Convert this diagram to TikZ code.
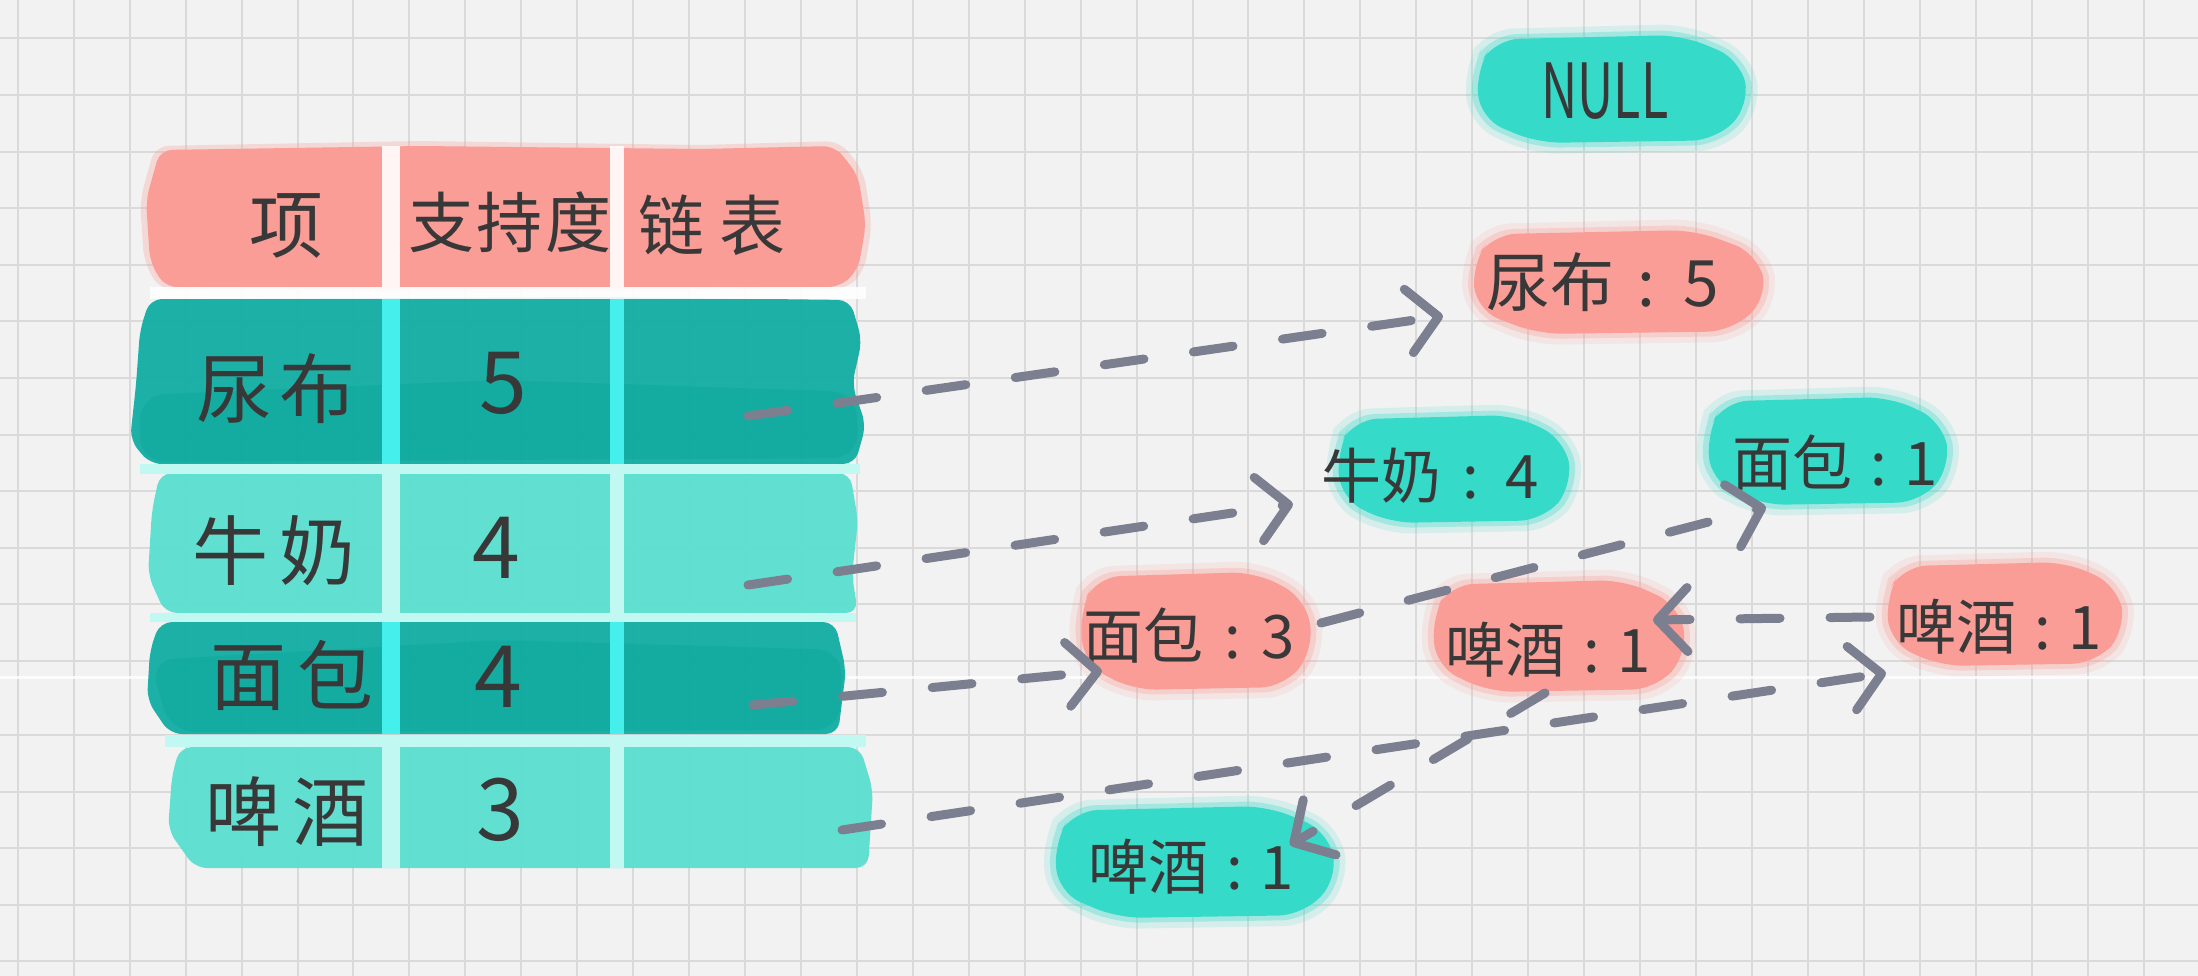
\documentclass[tikz,border=0pt]{standalone}
\usepackage{fontspec}
\setmainfont{Noto Sans CJK SC}
\usepackage{graphicx}
\usetikzlibrary{arrows.meta}
\definecolor{bg}{HTML}{F2F2F2}
\definecolor{gridc}{HTML}{DADADA}
\definecolor{salmon}{HTML}{F99D96}
\definecolor{tealdk}{HTML}{12ADA2}
\definecolor{tealdkk}{HTML}{00A296}
\definecolor{teallt}{HTML}{5ADFCF}
\definecolor{tealnode}{HTML}{36DAC8}
\definecolor{sepcyan}{HTML}{45F0EC}
\definecolor{seplt}{HTML}{C2F8F2}
\definecolor{ink}{HTML}{383838}
\definecolor{linkgray}{HTML}{7C7F8F}
\newcommand\blobpath[4]{%
    ({#1-0.86*#3},{#2-0.92*#4}) -- ({#1+0.5*#3},{#2-1.0*#4}) --
    ({#1+0.93*#3},{#2-0.55*#4}) -- ({#1+1.0*#3},{#2+0.3*#4}) --
    ({#1+0.75*#3},{#2+0.95*#4}) -- ({#1-0.55*#3},{#2+1.0*#4}) --
    ({#1-0.97*#3},{#2+0.55*#4}) -- ({#1-1.0*#3},{#2-0.35*#4}) -- cycle}
\newcommand\myblob[5]{%
  \fill[#5, opacity=.15, rounded corners=28pt] \blobpath{#1}{#2}{(#3+12)}{(#4+11)};
  \fill[#5, opacity=.3, rounded corners=26pt] \blobpath{#1}{#2}{(#3+6)}{(#4+5)};
  \fill[#5, rounded corners=24pt] \blobpath{#1}{#2}{#3}{#4};
}
\tikzset{
  gridline/.style={draw=gridc, line width=2pt},
  cell/.style={text=ink, font=\fontsize{76}{84}\selectfont, inner sep=0pt},
  digit/.style={text=ink, font=\fontsize{86}{90}\selectfont, inner sep=0pt},
  headtxt/.style={text=ink, font=\fontsize{66}{72}\selectfont, inner sep=0pt},
  lab/.style={text=ink, font=\fontsize{60}{68}\selectfont, inner sep=0pt},
  link/.style={draw=linkgray, line width=9pt, line cap=round, dash pattern=on 40pt off 50pt,
    -{Straight Barb[length=30pt,width=64pt,line width=9pt,round]}},
}
\begin{document}
\begin{tikzpicture}[x=1pt,y=-1pt]
\useasboundingbox (0,0) rectangle (2198,976);
\fill[bg] (0,0) rectangle (2198,976);
% grid
\foreach \k in {0,...,39} \draw[gridline] ({17.8+55.94*\k},0) -- ({17.8+55.94*\k},976);
\foreach \k in {0,...,11} \draw[gridline] (0,{661-56.6*\k}) -- (2198,{661-56.6*\k});
\foreach \k in {0,...,4} \draw[gridline] (0,{735+56.6*\k}) -- (2198,{735+56.6*\k});
\draw[white, line width=3pt, opacity=.8] (0,677) -- (2198,677);
% table rows
\fill[salmon, opacity=.3, rounded corners=14pt] (155,146) -- (420,141) -- (700,145) -- (840,141) -- (864,172) -- (872,225) -- (864,272) -- (845,290) -- (500,292) -- (160,290) -- (144,262) -- (140,200) -- cycle;
\fill[salmon, rounded corners=12pt] (160,150) -- (420,146) -- (700,149) -- (835,146) -- (858,175) -- (866,225) -- (858,270) -- (840,287) -- (500,289) -- (165,287) -- (150,262) -- (146,200) -- cycle;
\fill[tealdk, opacity=.95, rounded corners=12pt] (150,299) -- (600,297) -- (850,300) -- (862,340) -- (852,385) -- (866,425) -- (855,464) -- (400,466) -- (150,464) -- (130,440) -- (136,385) -- (140,330) -- cycle;
\fill[tealdkk, opacity=.3, rounded corners=25pt] (140,395) -- (500,380) -- (856,392) -- (858,458) -- (140,462) -- cycle;
\fill[teallt, opacity=.95, rounded corners=12pt] (160,473) -- (850,473) -- (858,520) -- (852,575) -- (858,613) -- (165,613) -- (148,575) -- (152,510) -- cycle;
\fill[tealdk, opacity=.95, rounded corners=12pt] (160,622) -- (835,622) -- (846,670) -- (838,734) -- (170,734) -- (147,700) -- (150,650) -- cycle;
\fill[tealdkk, opacity=.3, rounded corners=25pt] (150,660) -- (500,640) -- (842,650) -- (840,730) -- (170,732) -- cycle;
\fill[teallt, opacity=.95, rounded corners=12pt] (180,747) -- (860,747) -- (873,790) -- (868,868) -- (195,868) -- (168,830) -- (172,775) -- cycle;
% separators
\draw[white, line width=12pt, opacity=.9] (150,293) -- (866,293);
\draw[seplt, line width=10pt] (140,469) -- (860,469);
\draw[seplt, line width=9pt] (150,617.5) -- (856,617.5);
\draw[seplt, line width=12pt] (165,740.5) -- (866,740.5);
\foreach \xx/\ww in {391/18, 617/14}{
  \draw[white, line width=\ww pt, opacity=.9] (\xx,146) -- (\xx,287);
  \draw[sepcyan, line width=\ww pt] (\xx,299) -- (\xx,464);
  \draw[seplt, line width=\ww pt] (\xx,474) -- (\xx,613);
  \draw[sepcyan, line width=\ww pt] (\xx,622) -- (\xx,734);
  \draw[seplt, line width=\ww pt] (\xx,747) -- (\xx,868);
}
% table texts
\node[headtxt, font=\fontsize{74}{80}\selectfont] (h1) at (286,226) {项};
\node[headtxt] (h2) at (510,222) {支\hspace{0.04em}持\hspace{0.04em}度};
\node[headtxt] (h3) at (712,225) {链\hspace{0.22em}表};
\node[cell] (r1a) at (276,389) {尿\hspace{0.08em}布};
\node[digit] (r1b) at (503,383) {5};
\node[cell] (r2a) at (274,551) {牛\hspace{0.14em}奶};
\node[digit] (r2b) at (496,548) {4};
\node[cell] (r3a) at (292,675) {面\hspace{0.14em}包};
\node[digit] (r3b) at (498,677) {4};
\node[cell] (r4a) at (287,812) {啤\hspace{0.14em}酒};
\node[digit] (r4b) at (500,810) {3};
% blobs
\myblob{1613}{89}{137}{54}{tealnode}
\myblob{1620}{282}{148}{52}{salmon}
\myblob{1455}{469}{118}{54}{tealnode}
\myblob{1829}{451}{122}{54}{tealnode}
\myblob{1197}{631}{117}{59}{salmon}
\myblob{1560}{636}{128}{56}{salmon}
\myblob{2006}{614}{120}{52}{salmon}
\myblob{1196}{862}{142}{56}{tealnode}
% node texts
\node[lab, font=\fontsize{76}{80}\selectfont] (null) at (1605,91) {\scalebox{0.66}[1]{NULL}};
\node[lab, font=\fontsize{64}{70}\selectfont] (n5) at (1603,282) {尿布\hspace{0.35em}:\hspace{0.45em}5};
\node[lab] (m4) at (1430,476) {牛奶\hspace{0.35em}:\hspace{0.45em}4};
\node[lab] (b1) at (1835,463) {面包\hspace{0.3em}:\hspace{0.3em}1};
\node[lab] (b3) at (1189,636) {面包\hspace{0.35em}:\hspace{0.35em}3};
\node[lab] (p1m) at (1548,650) {啤酒\hspace{0.3em}:\hspace{0.3em}1};
\node[lab] (p1r) at (1999,627) {啤酒\hspace{0.3em}:\hspace{0.3em}1};
\node[lab] (p1b) at (1191,867) {啤酒\hspace{0.3em}:\hspace{0.3em}1};
% link starts
\coordinate (s1) at (748,416);
\coordinate (s2) at (748,585);
\coordinate (s3) at (753,705);
\coordinate (s4) at (842,830);
% connectors
\draw[link] (s1) -- ([shift={(-160,34)}]n5.center);
\draw[link] (s2) -- ([shift={(-137,28)}]m4.center);
\draw[link] (s3) -- ([shift={(-87,35)}]b3.center);
\draw[link] (s4) -- ([shift={(-113,46)}]p1r.center);
\draw[link] ([shift={(132,-13)}]b3.center) -- ([shift={(-69,44)}]b1.center);
\draw[link] ([shift={(-129,-10)}]p1r.center) -- ([shift={(105,-30)}]p1m.center);
\draw[link] ([shift={(-3,43)}]p1m.center) -- ([shift={(99,-22)}]p1b.center);
\end{tikzpicture}
\end{document}
